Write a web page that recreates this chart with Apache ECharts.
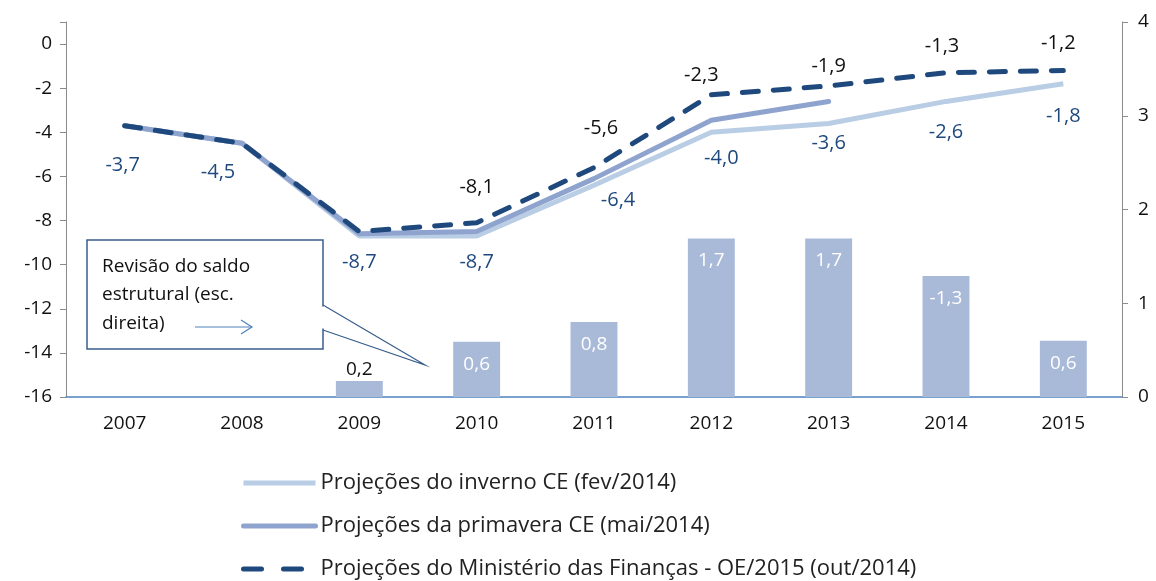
<!DOCTYPE html>
<html>
<head>
<meta charset="utf-8">
<script src="https://cdn.jsdelivr.net/npm/echarts@6/dist/echarts.min.js"></script>
<style>
  html, body { margin: 0; padding: 0; background: #fff; }
  #chart { width: 1156px; height: 581px; }
</style>
</head>
<body>
<div id="chart"></div>
<script>
// data
const years = ['2007', '2008', '2009', '2010', '2011', '2012', '2013', '2014', '2015'];
const inverno = [-3.7, -4.5, -8.7, -8.7, -6.4, -4.0, -3.6, -2.6, -1.8];
const primavera = [-3.7, -4.5, -8.6, -8.5, -6.1, -3.45, -2.6, null, null];
const ministerio = [-3.7, -4.5, -8.5, -8.1, -5.6, -2.3, -1.9, -1.3, -1.2];
const revisao = [-0.03, -0.03, 0.17, 0.59, 0.8, 1.69, 1.69, 1.29, 0.6];
const revisaoLabels = ['', '', '0,2', '0,6', '0,8', '1,7', '1,7', '-1,3', '0,6'];
const ministerioShowLabel = [false, false, false, true, true, true, true, true, true];

const names = [
  'Projeções do inverno CE (fev/2014)',
  'Projeções da primavera CE (mai/2014)',
  'Projeções do Ministério das Finanças - OE/2015 (out/2014)'
];

// label nudges so the numbers sit where the original puts them
const invernoOffset = [[-2, 30], [-24, 19], [0, 16], [0, 16], [24, 5], [10, 16], [0, 10], [0, 21], [0, 23]];
const ministerioOffset = [[0, 0], [0, 0], [0, 0], [0, -25], [7, -29], [-10, -9], [0, -10], [-4, -16], [-5, -17]];

const font = '"Open Sans", sans-serif';
const fmt = v => v.toFixed(1).replace('.', ',');

const chart = echarts.init(document.getElementById('chart'));

chart.setOption({
  animation: false,
  textStyle: { fontFamily: font },
  grid: { left: 66, right: 34, top: 22, bottom: 184 },
  legend: {
    data: [
      { name: names[0] },
      { name: names[1] },
      { name: names[2], lineStyle: { type: [18, 22] } }
    ],
    orient: 'vertical',
    left: 236,
    top: 467,
    height: 200,
    itemWidth: 72,
    itemHeight: 18,
    itemGap: 21,
    itemStyle: { opacity: 0 },
    lineStyle: { width: 5 },
    textStyle: { fontSize: 22, color: '#222', fontFamily: font }
  },
  xAxis: {
    type: 'category',
    data: years,
    axisLine: { onZero: false, lineStyle: { color: '#4F81BD', width: 1.5 } },
    axisTick: { show: false },
    axisLabel: { fontSize: 19, color: '#111', margin: 17 }
  },
  yAxis: [
    {
      type: 'value', min: -16, max: 1, interval: 2,
      axisLine: { show: true, lineStyle: { color: '#8C8C8C' } },
      axisTick: { show: true, length: 6, lineStyle: { color: '#8C8C8C' } },
      axisLabel: {
        fontSize: 19, color: '#111', margin: 14,
        formatter: v => (v > 0 ? '' : String(v))
      },
      splitLine: { show: false }
    },
    {
      type: 'value', min: 0, max: 4, interval: 1,
      axisLine: { show: true, lineStyle: { color: '#8C8C8C' } },
      axisTick: { show: true, length: 6, lineStyle: { color: '#8C8C8C' } },
      axisLabel: { fontSize: 19, color: '#111', margin: 16 },
      splitLine: { show: false }
    }
  ],
  series: [
    {
      type: 'bar',
      yAxisIndex: 1,
      barWidth: '40%',
      itemStyle: { color: '#A9B9D8' },
      data: revisao.map((v, i) => ({
        value: v,
        label: i === 2
          ? { show: true, position: 'top', color: '#111', distance: 2 }
          : { show: revisaoLabels[i] !== '', position: 'insideTop', color: '#fff', distance: 13 }
      })),
      label: {
        fontSize: 19,
        fontFamily: font,
        formatter: p => revisaoLabels[p.dataIndex]
      },
      z: 1
    },
    {
      name: names[0],
      type: 'line',
      data: inverno.map((v, i) => ({
        value: v,
        label: { offset: invernoOffset[i] }
      })),
      symbol: 'circle',
      symbolSize: 0,
      showAllSymbol: true,
      lineStyle: { color: '#B9CDE5', width: 5 },
      itemStyle: { color: '#B9CDE5' },
      label: {
        show: true, position: 'bottom', distance: 0,
        fontSize: 20, color: '#1F497D', fontFamily: font,
        formatter: p => fmt(p.value)
      },
      z: 2
    },
    {
      name: names[1],
      type: 'line',
      data: primavera,
      symbol: 'circle',
      symbolSize: 0,
      lineStyle: { color: '#8EA4CE', width: 5, cap: 'round' },
      itemStyle: { color: '#8EA4CE' },
      z: 3
    },
    {
      name: names[2],
      type: 'line',
      data: ministerio.map((v, i) => ({
        value: v,
        label: { show: ministerioShowLabel[i], offset: ministerioOffset[i] }
      })),
      symbol: 'circle',
      symbolSize: 0,
      showAllSymbol: true,
      lineStyle: { color: '#1F497D', width: 5, type: [16, 15], cap: 'round' },
      itemStyle: { color: '#1F497D' },
      label: {
        position: 'top', distance: 0,
        fontSize: 20, color: '#111', fontFamily: font,
        formatter: p => fmt(p.value)
      },
      z: 4
    }
  ],
  graphic: [
    {
      type: 'rect',
      shape: { x: 87, y: 240, width: 236, height: 109 },
      style: { fill: '#fff', stroke: '#385D8A', lineWidth: 1.5 },
      z: 10
    },
    {
      type: 'polyline',
      shape: { points: [[323, 305], [425, 365], [323, 330]] },
      style: { fill: null, stroke: '#385D8A', lineWidth: 1.2 },
      z: 11
    },
    {
      type: 'line',
      shape: { x1: 323, y1: 306.5, x2: 323, y2: 328.5 },
      style: { stroke: '#fff', lineWidth: 3 },
      z: 11
    },
    {
      type: 'text',
      left: 102, top: 252,
      style: {
        text: 'Revisão do saldo\nestrutural (esc.\ndireita)',
        font: '19px ' + font,
        fill: '#111',
        lineHeight: 28.5
      },
      z: 12
    },
    {
      type: 'polyline',
      shape: { points: [[195, 327], [252, 327]] },
      style: { stroke: '#4F81BD', lineWidth: 1.2, fill: null },
      z: 12
    },
    {
      type: 'polyline',
      shape: { points: [[241, 320], [252, 327], [241, 334]] },
      style: { stroke: '#4F81BD', lineWidth: 1.2, fill: null },
      z: 12
    }
  ]
});

window.addEventListener('resize', () => chart.resize());
</script>
</body>
</html>
